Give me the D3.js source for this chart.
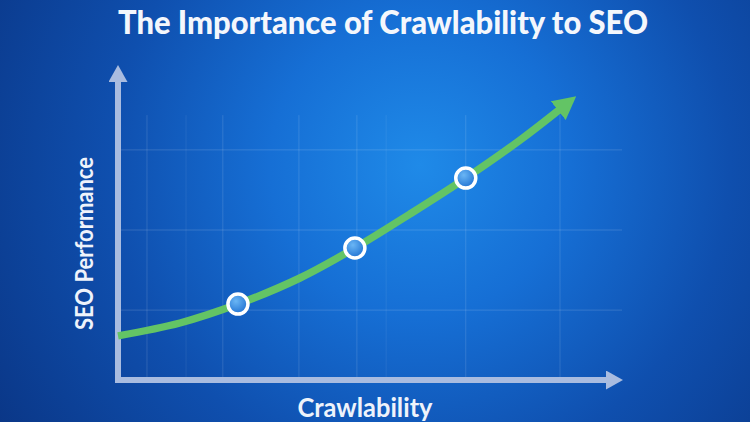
<!DOCTYPE html>
<html>
<head>
<meta charset="utf-8">
<script src="https://cdn.jsdelivr.net/npm/d3@7"></script>
<style>
  html, body { margin: 0; padding: 0; background: #0b3d94; }
  svg { display: block; }
</style>
</head>
<body>
<svg id="chart" width="750" height="422"></svg>
<script>
// ---- data ----
const title = "The Importance of Crawlability to SEO";
const xLabel = "Crawlability";
const yLabel = "SEO Performance";
const curveX = [0, 12.3, 23.8, 36.1, 47.0, 57.9, 69.0, 79.8, 87.5];
const curveY = [14.7, 19.0, 25.3, 34.0, 44.0, 55.3, 67.3, 80.0, 90.0];
const pointX = [23.8, 47.0, 69.0];
const pointY = [25.3, 44.0, 67.3];
const gridX = [5.75, 13.5, 20.8, 35.9, 47.4, 53.2, 69.0, 87.7];
const gridXStrong = [true, false, true, true, true, false, true, true];
const gridY = [23.3, 50.0, 76.7];

const W = 750, H = 422;
const svg = d3.select("#chart");
const defs = svg.append("defs");

// background gradient
const bg = defs.append("radialGradient").attr("id", "bg")
  .attr("cx", 420).attr("cy", 165).attr("r", 500)
  .attr("gradientUnits", "userSpaceOnUse");
bg.append("stop").attr("offset", "0%").attr("stop-color", "#1f8ae8");
bg.append("stop").attr("offset", "30%").attr("stop-color", "#166fd5");
bg.append("stop").attr("offset", "62%").attr("stop-color", "#0f4fae");
bg.append("stop").attr("offset", "100%").attr("stop-color", "#0a3686");
svg.append("rect").attr("width", W).attr("height", H).attr("fill", "url(#bg)");

const dotG = defs.append("radialGradient").attr("id", "dot")
  .attr("cx", "40%").attr("cy", "35%").attr("r", "70%");
dotG.append("stop").attr("offset", "0%").attr("stop-color", "#6ab6f5");
dotG.append("stop").attr("offset", "100%").attr("stop-color", "#1c6ed0");

// scales
const x = d3.scaleLinear().domain([0, 100]).range([118, 622]);
const y = d3.scaleLinear().domain([0, 100]).range([380, 80]);

// gridlines
const grid = svg.append("g");
grid.selectAll(".gx").data(gridX).join("line")
  .attr("x1", d => x(d)).attr("x2", d => x(d))
  .attr("y1", y(0)).attr("y2", y(88.3))
  .attr("stroke", "#ffffff")
  .attr("stroke-opacity", (d, i) => gridXStrong[i] ? 0.13 : 0.07)
  .attr("stroke-width", 1);
grid.selectAll(".gy").data(gridY).join("line")
  .attr("x1", x(0)).attr("x2", x(100))
  .attr("y1", d => y(d)).attr("y2", d => y(d))
  .attr("stroke", "#ffffff").attr("stroke-opacity", 0.15).attr("stroke-width", 1);

// axis arrowheads
const axisColor = "#a9bce0";
defs.append("marker").attr("id", "axArrow")
  .attr("viewBox", "0 0 17 19").attr("refX", 0).attr("refY", 9.5)
  .attr("markerWidth", 17).attr("markerHeight", 19)
  .attr("markerUnits", "userSpaceOnUse").attr("orient", "auto")
  .append("path").attr("d", "M0,0 L17,9.5 L0,19 Z").attr("fill", axisColor);

defs.append("marker").attr("id", "grArrow")
  .attr("viewBox", "0 0 23 24").attr("refX", 1).attr("refY", 12)
  .attr("markerWidth", 23).attr("markerHeight", 24)
  .attr("markerUnits", "userSpaceOnUse").attr("orient", "auto")
  .append("path").attr("d", "M0,0 L23,12 L0,24 Z").attr("fill", "#63c465");

// axes
const axes = svg.append("g");
axes.append("line")
  .attr("x1", x(0)).attr("y1", y(0) + 3).attr("x2", x(0)).attr("y2", y(100) + 2)
  .attr("stroke", axisColor).attr("stroke-width", 6)
  .attr("marker-end", "url(#axArrow)");
axes.append("line")
  .attr("x1", x(0) - 3).attr("y1", y(0)).attr("x2", x(100) - 16).attr("y2", y(0))
  .attr("stroke", axisColor).attr("stroke-width", 6)
  .attr("marker-end", "url(#axArrow)");

// curve
const pts = curveX.map((d, i) => [d, curveY[i]]);
const line = d3.line().x(d => x(d[0])).y(d => y(d[1])).curve(d3.curveCatmullRom.alpha(0.5));
svg.append("path").datum(pts)
  .attr("d", line)
  .attr("fill", "none")
  .attr("stroke", "#63c465")
  .attr("stroke-width", 7.5)
  .attr("marker-end", "url(#grArrow)");

// points
svg.append("g").selectAll("circle").data(pointX).join("circle")
  .attr("cx", d => x(d)).attr("cy", (d, i) => y(pointY[i]))
  .attr("r", 10)
  .attr("fill", "url(#dot)")
  .attr("stroke", "#ffffff").attr("stroke-width", 3.5);

// texts
const font = "Lato, 'Open Sans', sans-serif";
svg.append("text")
  .attr("x", 383).attr("y", 34)
  .attr("text-anchor", "middle")
  .attr("font-family", font).attr("font-weight", 900).attr("font-size", 32)
  .attr("fill", "#f4f7fc")
  .attr("textLength", 530).attr("lengthAdjust", "spacingAndGlyphs")
  .text(title);

svg.append("text")
  .attr("x", 365).attr("y", 417)
  .attr("text-anchor", "middle")
  .attr("font-family", font).attr("font-weight", 700).attr("font-size", 26)
  .attr("fill", "#eef3fb")
  .attr("textLength", 135).attr("lengthAdjust", "spacingAndGlyphs")
  .text(xLabel);

svg.append("text")
  .attr("transform", "translate(93,243.5) rotate(-90)")
  .attr("text-anchor", "middle")
  .attr("font-family", font).attr("font-weight", 700).attr("font-size", 24)
  .attr("fill", "#eef3fb")
  .attr("textLength", 173).attr("lengthAdjust", "spacingAndGlyphs")
  .text(yLabel);
</script>
</body>
</html>
